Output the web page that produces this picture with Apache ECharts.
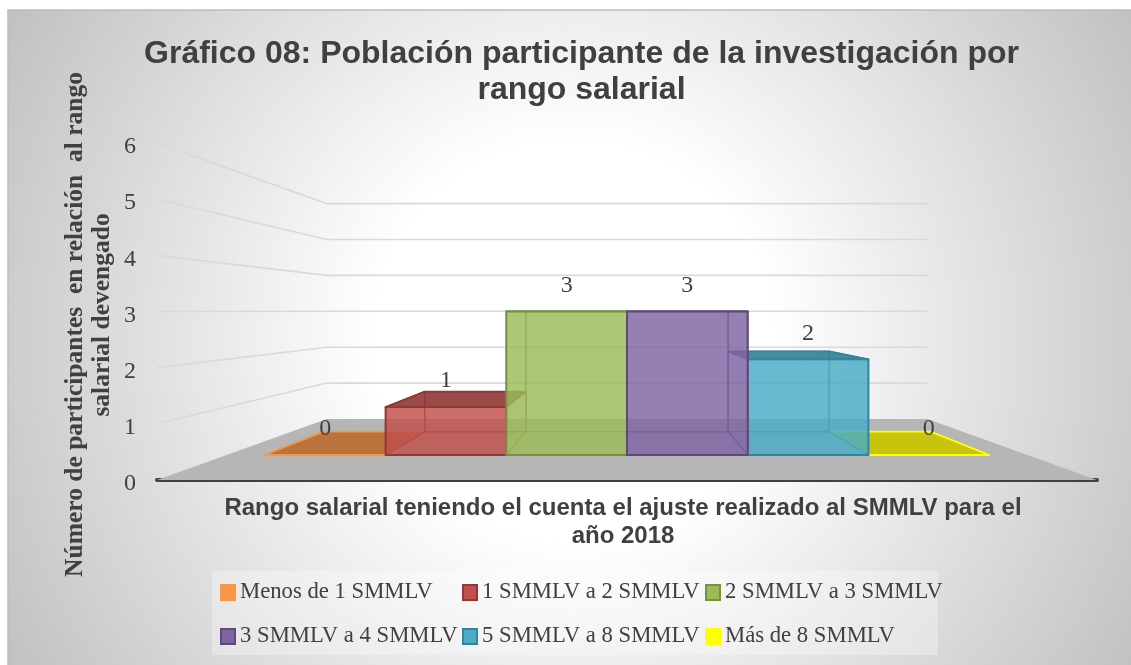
<!DOCTYPE html>
<html>
<head>
<meta charset="utf-8">
<script src="https://cdn.jsdelivr.net/npm/echarts@6/dist/echarts.min.js"></script>
<style>
  html, body { margin: 0; padding: 0; background: #fff; }
  #chart { width: 1131px; height: 665px; }
</style>
</head>
<body>
<div id="chart"></div>
<script>
const categories = ['Menos de 1 SMMLV', '1 SMMLV a 2 SMMLV', '2 SMMLV a 3 SMMLV', '3 SMMLV a 4 SMMLV', '5 SMMLV a 8 SMMLV', 'Más de 8 SMMLV']
const participants = [0, 1, 3, 3, 2, 0]
const yTicks = [0, 1, 2, 3, 4, 5, 6]
const faceColors = ['#f79646', '#c0504d', '#9bbb59', '#8064a2', '#4bacc6', '#ffff00']
const edgeColors = ['#f79646', '#953735', '#76923c', '#5f497a', '#31859c', '#ffff00']
const topColors = ['#b96f34', '#8f3c3a', '#748c42', '#604b79', '#388194', '#c8c400']

// la "profundidad" del grafico 3D: escala de cada plano respecto al plano frontal
const BACK_WALL = 0.639
const BAR_FRONT = 0.852
const BAR_BACK = 0.714
const X_MIN = -0.8176
const X_MAX = 5.8176
const HORIZON = 3.01 // valor del eje y donde queda la linea del horizonte

function project(api, x, v, depth) {
  const center = api.coord([(X_MIN + X_MAX) / 2, HORIZON])
  const p = api.coord([x, v])
  return [center[0] + (p[0] - center[0]) * depth, center[1] + (p[1] - center[1]) * depth]
}

function face(points, fill, stroke, width) {
  return {
    type: 'polygon',
    shape: { points },
    style: { fill, stroke, lineWidth: width, lineJoin: 'round' },
  }
}

function renderFloor(params, api) {
  return face([
    project(api, X_MIN, 0, 1),
    project(api, X_MIN, 0, BACK_WALL),
    project(api, X_MAX, 0, BACK_WALL),
    project(api, X_MAX, 0, 1),
  ], '#b6b6b6', 'none', 0)
}

function renderGridLine(params, api) {
  const v = api.value(0)
  return {
    type: 'polyline',
    shape: {
      points: [
        project(api, X_MIN, v, 1),
        project(api, X_MIN, v, BACK_WALL),
        project(api, X_MAX, v, BACK_WALL),
      ],
    },
    style: { fill: 'none', stroke: '#d9d9d9', lineWidth: 1.6 },
  }
}

function renderBar(params, api) {
  const i = api.value(0)
  const v = api.value(1)
  const l = i - 0.5
  const r = i + 0.5
  const front = echarts.color.modifyAlpha(faceColors[i], 0.82)
  const inner = echarts.color.modifyAlpha(faceColors[i], 0.06)
  const top = echarts.color.modifyAlpha(topColors[i], 0.92)
  const stroke = edgeColors[i]
  const corner = (x, val, d) => project(api, x, val, d)
  const faces = [
    // fondo, base, laterales, tapa y frente
    [[corner(l, 0, BAR_BACK), corner(r, 0, BAR_BACK), corner(r, v, BAR_BACK), corner(l, v, BAR_BACK)], inner, 1.2],
    [[corner(l, 0, BAR_FRONT), corner(r, 0, BAR_FRONT), corner(r, 0, BAR_BACK), corner(l, 0, BAR_BACK)], inner, 1.2],
    [[corner(l, 0, BAR_FRONT), corner(l, 0, BAR_BACK), corner(l, v, BAR_BACK), corner(l, v, BAR_FRONT)], inner, 1.2],
    [[corner(r, 0, BAR_FRONT), corner(r, 0, BAR_BACK), corner(r, v, BAR_BACK), corner(r, v, BAR_FRONT)], inner, 1.2],
    [[corner(l, v, BAR_FRONT), corner(r, v, BAR_FRONT), corner(r, v, BAR_BACK), corner(l, v, BAR_BACK)], top, 1.8],
    [[corner(l, 0, BAR_FRONT), corner(r, 0, BAR_FRONT), corner(r, v, BAR_FRONT), corner(l, v, BAR_FRONT)], front, 2],
  ]
  const labelPos = corner(i, v, BAR_FRONT)
  return {
    type: 'group',
    children: [
      ...faces.map(f => face(f[0], f[1], stroke, f[2])),
      {
        type: 'text',
        z2: 10,
        style: {
          x: labelPos[0],
          y: labelPos[1] - 26,
          text: String(v),
          align: 'center',
          verticalAlign: 'middle',
          font: '24px "Liberation Serif"',
          fill: '#404040',
        },
      },
    ],
  }
}

const chart = echarts.init(document.getElementById('chart'), null, { renderer: 'canvas' })

chart.setOption({
  animation: false,
  backgroundColor: '#ffffff',
  graphic: [
    {
      type: 'rect',
      z: -10,
      silent: true,
      shape: { x: 8, y: 10, width: 1130, height: 662 },
      style: {
        fill: {
          type: 'radial', x: 0.5, y: 0.5, r: 1,
          colorStops: [
            { offset: 0, color: '#ffffff' },
            { offset: 0.3, color: '#ffffff' },
            { offset: 1, color: '#bfbfbf' },
          ],
        },
        stroke: '#bdbdbd',
        lineWidth: 1.5,
      },
    },
    {
      type: 'rect',
      z: -9,
      silent: true,
      shape: { x: 212, y: 571, width: 726, height: 84 },
      style: { fill: 'rgba(255,255,255,0.3)' },
    },
  ],
  title: {
    text: 'Gráfico 08: Población participante de la investigación por\nrango salarial',
    left: 576.5,
    top: 31,
    textAlign: 'center',
    textStyle: {
      fontFamily: '"Liberation Sans"',
      fontSize: 32,
      fontWeight: 'bold',
      color: '#404040',
      lineHeight: 36,
    },
  },
  legend: categories.map((name, i) => ({
    left: [220, 462, 705][i % 3],
    top: i < 3 ? 581 : 625,
    padding: 0,
    itemWidth: 14,
    itemHeight: 15,
    icon: 'rect',
    data: [name],
    selectedMode: false,
    textStyle: {
      fontFamily: '"Liberation Serif"',
      fontSize: 22.7,
      color: '#404040',
    },
  })),
  grid: { left: 157, right: 34, top: 143, bottom: 185, containLabel: false },
  xAxis: {
    type: 'value',
    min: X_MIN,
    max: X_MAX,
    splitLine: { show: false },
    axisTick: { show: false },
    axisLabel: { show: false },
    axisLine: { show: true, onZero: true, lineStyle: { color: '#404040', width: 4, cap: 'round' } },
    name: 'Rango salarial teniendo el cuenta el ajuste realizado al SMMLV para el\naño 2018',
    nameLocation: 'middle',
    nameGap: 14,
    nameTextStyle: {
      fontFamily: '"Liberation Sans"',
      fontSize: 24,
      fontWeight: 'bold',
      color: '#404040',
      lineHeight: 28,
      padding: [0, 8, 0, 0],
    },
  },
  yAxis: {
    type: 'value',
    min: 0,
    max: 6,
    interval: 1,
    splitLine: { show: false },
    axisTick: { show: false },
    axisLine: { show: false },
    axisLabel: {
      margin: 21,
      formatter: '{n|{value}}',
      rich: {
        n: {
          fontFamily: '"Liberation Serif"',
          fontSize: 24,
          color: '#404040',
          padding: [8, 0, 0, 0],
        },
      },
    },
    name: 'Número de participantes  en relación  al rango\n   salarial devengado',
    nameLocation: 'middle',
    nameGap: 41,
    nameMoveOverlap: false,
    nameTextStyle: {
      fontFamily: '"Liberation Serif"',
      fontSize: 25.5,
      fontWeight: 'bold',
      color: '#404040',
      lineHeight: 27,
      padding: [0, 26, 0, 0],
    },
  },
  series: [
    { type: 'custom', name: 'piso', silent: true, renderItem: renderFloor, data: [[0]], z: 1 },
    { type: 'custom', name: 'rejilla', silent: true, renderItem: renderGridLine, data: yTicks.slice(1).map(v => [v]), z: 1, encode: { y: 0 } },
    ...categories.map((name, i) => ({
      type: 'custom',
      name,
      silent: true,
      // las barras exteriores se dibujan primero, como en el original
      z: 2 + Math.min(i, 5 - i),
      renderItem: renderBar,
      itemStyle: { color: faceColors[i], borderColor: edgeColors[i], borderWidth: 1.5 },
      encode: { x: 0, y: 1 },
      data: [[i, participants[i]]],
    })),
  ],
})
</script>
</body>
</html>
